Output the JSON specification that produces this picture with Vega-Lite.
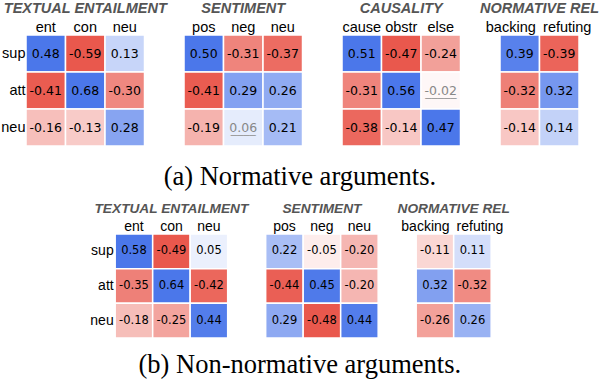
{
  "$schema": "https://vega.github.io/schema/vega-lite/v6.json",
  "padding": {"left": 0, "top": 0, "right": 0, "bottom": 0},
  "background": "white",
  "config": {
    "view": {"stroke": null},
    "locale": {"number": {"decimal": ".", "thousands": ",", "grouping": [3], "currency": ["$", ""], "minus": "-"}},
    "axis": {"ticks": false, "domain": false, "labelFont": "Liberation Sans", "labelColor": "black", "grid": false},
    "title": {"font": "Liberation Sans", "fontStyle": "italic", "fontWeight": "bold", "color": "#555555", "fontSize": 14.5, "offset": 3}
  },
  "datasets": {
    "te_a": [
      {"r": "sup", "c": "ent", "v": 0.48, "sig": true}, {"r": "sup", "c": "con", "v": -0.59, "sig": true}, {"r": "sup", "c": "neu", "v": 0.13, "sig": true},
      {"r": "att", "c": "ent", "v": -0.41, "sig": true}, {"r": "att", "c": "con", "v": 0.68, "sig": true}, {"r": "att", "c": "neu", "v": -0.30, "sig": true},
      {"r": "neu", "c": "ent", "v": -0.16, "sig": true}, {"r": "neu", "c": "con", "v": -0.13, "sig": true}, {"r": "neu", "c": "neu", "v": 0.28, "sig": true}
    ],
    "se_a": [
      {"r": "sup", "c": "pos", "v": 0.50, "sig": true}, {"r": "sup", "c": "neg", "v": -0.31, "sig": true}, {"r": "sup", "c": "neu", "v": -0.37, "sig": true},
      {"r": "att", "c": "pos", "v": -0.41, "sig": true}, {"r": "att", "c": "neg", "v": 0.29, "sig": true}, {"r": "att", "c": "neu", "v": 0.26, "sig": true},
      {"r": "neu", "c": "pos", "v": -0.19, "sig": true}, {"r": "neu", "c": "neg", "v": 0.06, "sig": false}, {"r": "neu", "c": "neu", "v": 0.21, "sig": true}
    ],
    "ca_a": [
      {"r": "sup", "c": "cause", "v": 0.51, "sig": true}, {"r": "sup", "c": "obstr", "v": -0.47, "sig": true}, {"r": "sup", "c": "else", "v": -0.24, "sig": true},
      {"r": "att", "c": "cause", "v": -0.31, "sig": true}, {"r": "att", "c": "obstr", "v": 0.56, "sig": true}, {"r": "att", "c": "else", "v": -0.02, "sig": false},
      {"r": "neu", "c": "cause", "v": -0.38, "sig": true}, {"r": "neu", "c": "obstr", "v": -0.14, "sig": true}, {"r": "neu", "c": "else", "v": 0.47, "sig": true}
    ],
    "nr_a": [
      {"r": "sup", "c": "backing", "v": 0.39, "sig": true}, {"r": "sup", "c": "refuting", "v": -0.39, "sig": true},
      {"r": "att", "c": "backing", "v": -0.32, "sig": true}, {"r": "att", "c": "refuting", "v": 0.32, "sig": true},
      {"r": "neu", "c": "backing", "v": -0.14, "sig": true}, {"r": "neu", "c": "refuting", "v": 0.14, "sig": true}
    ],
    "te_b": [
      {"r": "sup", "c": "ent", "v": 0.58, "sig": true}, {"r": "sup", "c": "con", "v": -0.49, "sig": true}, {"r": "sup", "c": "neu", "v": 0.05, "sig": true},
      {"r": "att", "c": "ent", "v": -0.35, "sig": true}, {"r": "att", "c": "con", "v": 0.64, "sig": true}, {"r": "att", "c": "neu", "v": -0.42, "sig": true},
      {"r": "neu", "c": "ent", "v": -0.18, "sig": true}, {"r": "neu", "c": "con", "v": -0.25, "sig": true}, {"r": "neu", "c": "neu", "v": 0.44, "sig": true}
    ],
    "se_b": [
      {"r": "sup", "c": "pos", "v": 0.22, "sig": true}, {"r": "sup", "c": "neg", "v": -0.05, "sig": true}, {"r": "sup", "c": "neu", "v": -0.20, "sig": true},
      {"r": "att", "c": "pos", "v": -0.44, "sig": true}, {"r": "att", "c": "neg", "v": 0.45, "sig": true}, {"r": "att", "c": "neu", "v": -0.20, "sig": true},
      {"r": "neu", "c": "pos", "v": 0.29, "sig": true}, {"r": "neu", "c": "neg", "v": -0.48, "sig": true}, {"r": "neu", "c": "neu", "v": 0.44, "sig": true}
    ],
    "nr_b": [
      {"r": "sup", "c": "backing", "v": -0.11, "sig": true}, {"r": "sup", "c": "refuting", "v": 0.11, "sig": true},
      {"r": "att", "c": "backing", "v": 0.32, "sig": true}, {"r": "att", "c": "refuting", "v": -0.32, "sig": true},
      {"r": "neu", "c": "backing", "v": -0.26, "sig": true}, {"r": "neu", "c": "refuting", "v": 0.26, "sig": true}
    ]
  },
  "resolve": {"scale": {"color": "independent"}},
  "vconcat": [
    {
      "hconcat": [
        {
          "data": {"name": "te_a"}, "width": 118.5, "height": 111,
          "title": {"text": "TEXTUAL ENTAILMENT"},
          "encoding": {
            "x": {"field": "c", "type": "nominal", "sort": ["ent", "con", "neu"], "title": null, "scale": {"paddingInner": 0, "paddingOuter": 0}, "axis": {"orient": "top", "labelAngle": 0, "labelPadding": 1, "labelFontSize": 14.5}},
            "y": {"field": "r", "type": "nominal", "sort": ["sup", "att", "neu"], "title": null, "scale": {"paddingInner": 0, "paddingOuter": 0}, "axis": {"labelPadding": 1, "labelFontSize": 14.5}}
          },
          "layer": [
            {"mark": {"type": "rect", "stroke": "white", "strokeWidth": 1.5}, "encoding": {"color": {"field": "v", "type": "quantitative", "legend": null, "scale": {"domain": [-0.42, 0, 0.42], "range": ["#e9584d", "#ffffff", "#4b77ea"], "clamp": true, "interpolate": "rgb"}}}},
            {"mark": {"type": "text", "font": "DejaVu Sans", "fontSize": 12.5}, "encoding": {"text": {"field": "v", "type": "quantitative", "format": ".2f"}, "color": {"condition": {"test": "datum.sig", "value": "black"}, "value": "#888888"}}}
          ]
        },
        {
          "data": {"name": "se_a"}, "width": 118.5, "height": 111,
          "title": {"text": "SENTIMENT"},
          "encoding": {
            "x": {"field": "c", "type": "nominal", "sort": ["pos", "neg", "neu"], "title": null, "scale": {"paddingInner": 0, "paddingOuter": 0}, "axis": {"orient": "top", "labelAngle": 0, "labelPadding": 1, "labelFontSize": 14.5}},
            "y": {"field": "r", "type": "nominal", "sort": ["sup", "att", "neu"], "title": null, "scale": {"paddingInner": 0, "paddingOuter": 0}, "axis": null}
          },
          "layer": [
            {"mark": {"type": "rect", "stroke": "white", "strokeWidth": 1.5}, "encoding": {"color": {"field": "v", "type": "quantitative", "legend": null, "scale": {"domain": [-0.42, 0, 0.42], "range": ["#e9584d", "#ffffff", "#4b77ea"], "clamp": true, "interpolate": "rgb"}}}},
            {"mark": {"type": "text", "font": "DejaVu Sans", "fontSize": 12.5}, "encoding": {"text": {"field": "v", "type": "quantitative", "format": ".2f"}, "color": {"condition": {"test": "datum.sig", "value": "black"}, "value": "#888888"}}},
            {"mark": {"type": "text", "font": "DejaVu Sans", "fontSize": 12.5, "text": "____", "color": "#999999", "dy": 1}, "encoding": {"opacity": {"condition": {"test": "datum.sig", "value": 0}, "value": 1}}}
          ]
        },
        {
          "data": {"name": "ca_a"}, "width": 118.5, "height": 111,
          "title": {"text": "CAUSALITY"},
          "encoding": {
            "x": {"field": "c", "type": "nominal", "sort": ["cause", "obstr", "else"], "title": null, "scale": {"paddingInner": 0, "paddingOuter": 0}, "axis": {"orient": "top", "labelAngle": 0, "labelPadding": 1, "labelFontSize": 14.5}},
            "y": {"field": "r", "type": "nominal", "sort": ["sup", "att", "neu"], "title": null, "scale": {"paddingInner": 0, "paddingOuter": 0}, "axis": null}
          },
          "layer": [
            {"mark": {"type": "rect", "stroke": "white", "strokeWidth": 1.5}, "encoding": {"color": {"field": "v", "type": "quantitative", "legend": null, "scale": {"domain": [-0.42, 0, 0.42], "range": ["#e9584d", "#ffffff", "#4b77ea"], "clamp": true, "interpolate": "rgb"}}}},
            {"mark": {"type": "text", "font": "DejaVu Sans", "fontSize": 12.5}, "encoding": {"text": {"field": "v", "type": "quantitative", "format": ".2f"}, "color": {"condition": {"test": "datum.sig", "value": "black"}, "value": "#888888"}}},
            {"mark": {"type": "text", "font": "DejaVu Sans", "fontSize": 12.5, "text": "_____", "color": "#999999", "dy": 1}, "encoding": {"opacity": {"condition": {"test": "datum.sig", "value": 0}, "value": 1}}}
          ]
        },
        {
          "data": {"name": "nr_a"}, "width": 79, "height": 111,
          "title": {"text": "NORMATIVE REL"},
          "encoding": {
            "x": {"field": "c", "type": "nominal", "sort": ["backing", "refuting"], "title": null, "scale": {"paddingInner": 0, "paddingOuter": 0}, "axis": {"orient": "top", "labelAngle": 0, "labelPadding": 1, "labelFontSize": 14.5, "labelOffset": {"expr": "datum.value == 'backing' ? -9 : 8"}}},
            "y": {"field": "r", "type": "nominal", "sort": ["sup", "att", "neu"], "title": null, "scale": {"paddingInner": 0, "paddingOuter": 0}, "axis": null}
          },
          "layer": [
            {"mark": {"type": "rect", "stroke": "white", "strokeWidth": 1.5}, "encoding": {"color": {"field": "v", "type": "quantitative", "legend": null, "scale": {"domain": [-0.42, 0, 0.42], "range": ["#e9584d", "#ffffff", "#4b77ea"], "clamp": true, "interpolate": "rgb"}}}},
            {"mark": {"type": "text", "font": "DejaVu Sans", "fontSize": 12.5}, "encoding": {"text": {"field": "v", "type": "quantitative", "format": ".2f"}, "color": {"condition": {"test": "datum.sig", "value": "black"}, "value": "#888888"}}}
          ]
        }
      ],
      "spacing": 39,
      "bounds": "flush",
      "title": {"text": "(a) Normative arguments.", "orient": "bottom", "anchor": "middle", "font": "Liberation Serif", "fontStyle": "normal", "fontWeight": "normal", "fontSize": 26.5, "color": "black", "offset": 17}
    },
    {
      "hconcat": [
        {
          "data": {"name": "te_b"}, "width": 112.5, "height": 104,
          "title": {"text": "TEXTUAL ENTAILMENT", "fontSize": 13.7},
          "encoding": {
            "x": {"field": "c", "type": "nominal", "sort": ["ent", "con", "neu"], "title": null, "scale": {"paddingInner": 0, "paddingOuter": 0}, "axis": {"orient": "top", "labelAngle": 0, "labelPadding": 1, "labelFontSize": 14}},
            "y": {"field": "r", "type": "nominal", "sort": ["sup", "att", "neu"], "title": null, "scale": {"paddingInner": 0, "paddingOuter": 0}, "axis": {"labelPadding": 2, "labelFontSize": 14}}
          },
          "layer": [
            {"mark": {"type": "rect", "stroke": "white", "strokeWidth": 1.5}, "encoding": {"color": {"field": "v", "type": "quantitative", "legend": null, "scale": {"domain": [-0.46, 0, 0.46], "range": ["#e9584d", "#ffffff", "#4b77ea"], "clamp": true, "interpolate": "rgb"}}}},
            {"mark": {"type": "text", "font": "DejaVu Sans", "fontSize": 11.5}, "encoding": {"text": {"field": "v", "type": "quantitative", "format": ".2f"}, "color": {"value": "black"}}}
          ]
        },
        {
          "data": {"name": "se_b"}, "width": 112.5, "height": 104,
          "title": {"text": "SENTIMENT", "fontSize": 13.7},
          "encoding": {
            "x": {"field": "c", "type": "nominal", "sort": ["pos", "neg", "neu"], "title": null, "scale": {"paddingInner": 0, "paddingOuter": 0}, "axis": {"orient": "top", "labelAngle": 0, "labelPadding": 1, "labelFontSize": 14}},
            "y": {"field": "r", "type": "nominal", "sort": ["sup", "att", "neu"], "title": null, "scale": {"paddingInner": 0, "paddingOuter": 0}, "axis": null}
          },
          "layer": [
            {"mark": {"type": "rect", "stroke": "white", "strokeWidth": 1.5}, "encoding": {"color": {"field": "v", "type": "quantitative", "legend": null, "scale": {"domain": [-0.46, 0, 0.46], "range": ["#e9584d", "#ffffff", "#4b77ea"], "clamp": true, "interpolate": "rgb"}}}},
            {"mark": {"type": "text", "font": "DejaVu Sans", "fontSize": 11.5}, "encoding": {"text": {"field": "v", "type": "quantitative", "format": ".2f"}, "color": {"value": "black"}}}
          ]
        },
        {
          "data": {"name": "nr_b"}, "width": 75, "height": 104,
          "title": {"text": "NORMATIVE REL", "fontSize": 13.7},
          "encoding": {
            "x": {"field": "c", "type": "nominal", "sort": ["backing", "refuting"], "title": null, "scale": {"paddingInner": 0, "paddingOuter": 0}, "axis": {"orient": "top", "labelAngle": 0, "labelPadding": 1, "labelFontSize": 14, "labelOffset": {"expr": "datum.value == 'backing' ? -9.5 : 7.5"}}},
            "y": {"field": "r", "type": "nominal", "sort": ["sup", "att", "neu"], "title": null, "scale": {"paddingInner": 0, "paddingOuter": 0}, "axis": null}
          },
          "layer": [
            {"mark": {"type": "rect", "stroke": "white", "strokeWidth": 1.5}, "encoding": {"color": {"field": "v", "type": "quantitative", "legend": null, "scale": {"domain": [-0.46, 0, 0.46], "range": ["#e9584d", "#ffffff", "#4b77ea"], "clamp": true, "interpolate": "rgb"}}}},
            {"mark": {"type": "text", "font": "DejaVu Sans", "fontSize": 11.5}, "encoding": {"text": {"field": "v", "type": "quantitative", "format": ".2f"}, "color": {"value": "black"}}}
          ]
        }
      ],
      "spacing": 37.5,
      "bounds": "flush",
      "title": {"text": "(b) Non-normative arguments.", "orient": "bottom", "anchor": "middle", "font": "Liberation Serif", "fontStyle": "normal", "fontWeight": "normal", "fontSize": 26.5, "color": "black", "offset": 13}
    }
  ],
  "spacing": 11,
  "center": true
}
